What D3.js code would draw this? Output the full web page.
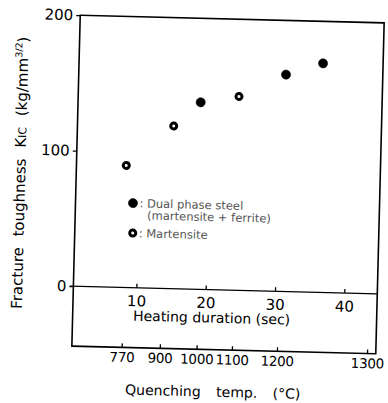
<!DOCTYPE html>
<html>
<head>
<meta charset="utf-8">
<script src="https://cdn.jsdelivr.net/npm/d3@7"></script>
<style>
  body { margin: 0; background: #fff; }
  svg { display: block; }
  .axis path { display: none; }
  .axis line { stroke: #000; stroke-width: 1.3; }
</style>
</head>
<body>
<div id="chart"></div>
<script>
// values
const heatSec = [8.1, 14.8, 18.6, 24.1, 30.8, 36.1];
const kic = [90, 120, 138, 143, 160, 169];
const phase = ['M', 'M', 'D', 'M', 'D', 'D'];   // M: martensite, D: dual phase
const heatTicks = [10, 20, 30, 40];
const kTicks = [0, 100, 200];
const quenchTemps = [770, 900, 1000, 1100, 1200, 1300];
const quenchSec = [8.1, 13.6, 18.9, 24.0, 30.5, 43.5];  // heating time at which each temp is reached

const W = 388, H = 403;
const BOX = {left: 76, right: 380, top: 19, zero: 290, bottom: 350};
const FONT = 'DejaVu Sans, sans-serif';

const svg = d3.select('#chart').append('svg')
  .attr('width', W).attr('height', H);

// the scanned figure sits slightly askew
const g = svg.append('g').attr('transform', 'rotate(1.45,228,184.5)');

const x = d3.scaleLinear().domain([10, 40]).range([139, 347]);
const y = d3.scaleLinear().domain([0, 200]).range([BOX.zero, BOX.top]);
const xq = d3.scaleLinear().domain(quenchTemps).range(quenchSec.map(x));

// frame
const frame = g.append('g').attr('stroke', '#000').attr('stroke-width', 1.6).attr('fill', 'none');
frame.append('rect')
  .attr('x', BOX.left).attr('y', BOX.top)
  .attr('width', BOX.right - BOX.left).attr('height', BOX.bottom - BOX.top);
frame.append('line')
  .attr('x1', BOX.left - 3).attr('x2', BOX.right)
  .attr('y1', BOX.zero).attr('y2', BOX.zero)
  .attr('stroke-width', 1.3);

// y axis
g.append('g')
  .attr('class', 'axis')
  .attr('transform', 'translate(' + BOX.left + ',0)')
  .call(d3.axisLeft(y).tickValues(kTicks).tickSize(4).tickPadding(3))
  .selectAll('text')
  .style('font-family', FONT).style('font-size', '15px').attr('fill', '#000');

// heating duration axis (on the zero line)
g.append('g')
  .attr('class', 'axis')
  .attr('transform', 'translate(0,' + BOX.zero + ')')
  .call(d3.axisBottom(x).tickValues(heatTicks).tickSizeInner(-4).tickSizeOuter(0).tickPadding(8))
  .selectAll('text')
  .style('font-family', FONT).style('font-size', '15px').attr('fill', '#000');

// quenching temperature axis (bottom of frame)
g.append('g')
  .attr('class', 'axis')
  .attr('transform', 'translate(0,' + BOX.bottom + ')')
  .call(d3.axisBottom(xq).tickValues(quenchTemps).tickFormat(d3.format('d')).tickSizeInner(-4).tickSizeOuter(0).tickPadding(5))
  .selectAll('text')
  .style('font-family', FONT).style('font-size', '13.5px').style('letter-spacing', '-0.3px').attr('fill', '#000');

// axis titles
g.append('text')
  .attr('x', 215).attr('y', 323)
  .attr('text-anchor', 'middle')
  .style('font-family', FONT).style('font-size', '14px')
  .text('Heating duration (sec)');

g.append('text')
  .attr('x', 218).attr('y', 397)
  .attr('text-anchor', 'middle')
  .style('font-family', FONT).style('font-size', '14px').style('word-spacing', '11px')
  .text('Quenching temp. (°C)');

const yt = g.append('text')
  .attr('transform', 'translate(25,178) rotate(-90)')
  .attr('text-anchor', 'middle')
  .style('font-family', FONT).style('font-size', '15px').style('word-spacing', '6px');
yt.append('tspan').text('Fracture toughness K');
yt.append('tspan').style('font-size', '11px').text('IC');
yt.append('tspan').text(' (kg/mm');
yt.append('tspan').attr('dy', -6).style('font-size', '9.5px').text('3/2');
yt.append('tspan').attr('dy', 6).text(')');

// points
function marker(sel) {
  sel.attr('r', d => d === 'D' ? 4.6 : 3)
    .attr('fill', d => d === 'D' ? '#000' : '#fff')
    .attr('stroke', '#000')
    .attr('stroke-width', d => d === 'D' ? 0.5 : 3);
}

g.selectAll('.point')
  .data(heatSec.map((s, i) => ({s: s, k: kic[i], p: phase[i]})))
  .enter().append('circle')
  .attr('class', 'point')
  .attr('cx', d => x(d.s))
  .attr('cy', d => y(d.k))
  .each(function (d) { marker(d3.select(this).datum(d.p)); });

// legend
const legend = g.append('g')
  .style('font-family', FONT).style('font-size', '11.5px').attr('fill', '#555');
legend.append('circle').attr('cx', 133.5).attr('cy', 205.5).datum('D').call(marker);
legend.append('text').attr('x', 140).attr('y', 209.5).text(': Dual phase steel');
legend.append('text').attr('x', 148).attr('y', 221.5).text('(martensite + ferrite)');
legend.append('circle').attr('cx', 134).attr('cy', 235.5).datum('M').call(marker);
legend.append('text').attr('x', 140).attr('y', 239.5).text(': Martensite');
</script>
</body>
</html>
